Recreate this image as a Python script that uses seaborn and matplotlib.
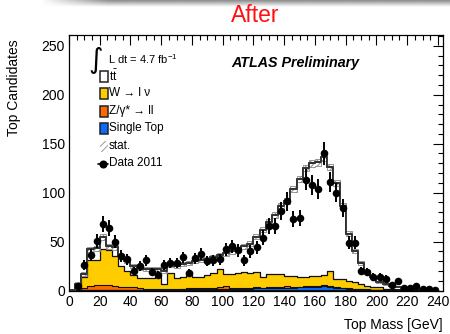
import numpy as np
import pandas as pd
import matplotlib
matplotlib.use("Agg")
import matplotlib.pyplot as plt
import seaborn as sns
from matplotlib.patches import Rectangle
from matplotlib.lines import Line2D
from matplotlib.ticker import MultipleLocator

# ---------------- data (4 GeV bins, 0-240 GeV) ----------------
bin_edges = list(range(0, 244, 4))

data_2011 = [0, 5, 26, 36, 51, 68, 64, 50, 35, 32,
             20, 25, 31, 19, 16, 26, 28, 28, 34, 18,
             33, 37, 30, 31, 32, 42, 45, 41, 31, 40,
             44, 54, 66, 66, 81, 91, 73, 74, 113, 108,
             104, 140, 111, 100, 84, 49, 49, 20, 19, 14,
             14, 12, 6, 10, 3, 3, 5, 2, 2, 1]

# stacked totals as drawn (top of each layer)
total_mc = [1, 7, 17, 42, 43, 55, 45, 44, 35, 30,
            25, 23, 22, 22, 22, 20, 26, 25, 27, 28,
            30, 31, 32, 34, 36, 38, 40, 42, 45, 48,
            55, 62, 70, 77, 86, 91, 104, 114, 125, 130,
            131, 136, 126, 110, 86, 58, 40, 28, 19, 14,
            9, 7, 5, 4, 3, 2.5, 2, 1.5, 1, 0.8]

wjets_top = [0.5, 6, 14, 31, 31, 42, 41, 35, 25, 20,
             16, 13, 13, 13, 14, 7, 18, 13, 14, 19,
             14, 14, 16, 18, 22, 17, 17, 18, 19, 18,
             19, 14, 17, 17, 17, 15, 15, 14, 14, 15,
             15, 16, 20, 12, 12, 10, 9, 7, 5, 4,
             4, 2, 2, 1, 0.5, 0.3, 0.3, 0.2, 0.2, 0.1]

single_top = [0, 0.1, 0.2, 0.4, 0.5, 0.5, 0.5, 0.5, 0.5, 0.6,
              0.6, 0.7, 0.8, 0.8, 0.9, 0.8, 1.0, 1.0, 1.1, 1.2,
              1.3, 1.3, 1.4, 1.5, 1.6, 1.7, 1.8, 1.9, 2.0, 2.0,
              2.2, 2.2, 2.4, 2.5, 2.6, 2.8, 3.0, 3.2, 3.4, 3.8,
              4.0, 4.2, 3.8, 3.0, 2.5, 2.0, 1.6, 1.2, 0.9, 0.7,
              0.5, 0.4, 0.3, 0.2, 0.1, 0.1, 0.1, 0, 0, 0]

zjets = [0, 0.5, 2.0, 4.0, 5.0, 5.5, 5.0, 4.0, 3.5, 3.0,
         2.5, 1.5, 1.2, 1.0, 1.0, 0.8, 1.0, 1.0, 0.9, 0.9,
         1.0, 1.0, 1.0, 1.2, 1.5, 2.5, 1.2, 1.0, 1.0, 0.9,
         0.9, 0.8, 0.8, 0.8, 1.2, 1.5, 1.0, 0.8, 0.8, 0.8,
         1.0, 1.5, 1.2, 0.6, 0.5, 0.4, 0.3, 0.3, 0.2, 0.2,
         0.1, 0.1, 0.1, 0.05, 0.05, 0, 0, 0, 0, 0]

mc_stat_err = [0.5, 1.2, 2, 2.5, 2.5, 3, 2.5, 2.5, 2, 2,
               1.8, 1.8, 1.8, 1.8, 1.8, 1.8, 1.9, 1.9, 2, 2,
               2, 2, 2, 2.1, 2.2, 2.3, 2.3, 2.4, 2.5, 2.5,
               2.6, 2.7, 2.8, 2.9, 3, 3.1, 3.2, 3.3, 3.4, 3.5,
               3.5, 3.5, 3.4, 3.2, 3, 2.6, 2.2, 1.8, 1.5, 1.3,
               1.1, 0.9, 0.8, 0.7, 0.6, 0.5, 0.5, 0.4, 0.4, 0.3]

x_ticks = [0, 20, 40, 60, 80, 100, 120, 140, 160, 180, 200, 220, 240]
y_ticks = [0, 50, 100, 150, 200, 250]

legend_labels = [r"$\mathregular{t\bar{t}}$", "W \u2192 l \u03bd", "Z/\u03b3* \u2192 ll",
                 "Single Top", "stat.", "Data 2011"]

# ---------------- style ----------------
sns.set_theme(style="white")
plt.rcParams["font.family"] = ["Liberation Sans", "DejaVu Sans"]
plt.rcParams["mathtext.fontset"] = "custom"
plt.rcParams["mathtext.rm"] = "Liberation Sans"
plt.rcParams["mathtext.it"] = "Liberation Sans:italic"
plt.rcParams["mathtext.bf"] = "Liberation Sans:bold"
plt.rcParams["hatch.linewidth"] = 0.7
plt.rcParams["text.color"] = "black"
plt.rcParams["axes.labelcolor"] = "black"
plt.rcParams["xtick.color"] = "black"
plt.rcParams["ytick.color"] = "black"

C_W = "#FFCC00"
C_Z = "#FF6A00"
C_ST = "#0A6CFF"

edges = np.array(bin_edges, dtype=float)
centers = edges[:-1] + 2.0
df = pd.DataFrame({
    "mass": centers,
    "total": total_mc,
    "w_top": wjets_top,
    "z_top": np.array(single_top) + np.array(zjets),
    "st": single_top,
    "data": data_2011,
    "stat": mc_stat_err,
})

W, H = 450, 334
fig = plt.figure(figsize=(W / 100, H / 100), dpi=100)
AX_L, AX_R, AX_T, AX_B = 69, 443, 35, 290.5
ax = fig.add_axes([AX_L / W, 1 - AX_B / H, (AX_R - AX_L) / W, (AX_B - AX_T) / H])

# stacked MC drawn as cumulative layers, top first
for col, color, lw in [("total", "white", 1.3), ("w_top", C_W, 0.9),
                       ("z_top", C_Z, 0.8), ("st", C_ST, 0.8)]:
    sns.histplot(data=df, x="mass", weights=col, bins=bin_edges, element="step",
                 fill=True, color=color, alpha=1, edgecolor="#111111",
                 linewidth=lw, ax=ax)

# stat band
tot = np.array(total_mc, dtype=float)
err = np.array(mc_stat_err, dtype=float)
lo = np.append(tot - err, tot[-1] - err[-1])
hi = np.append(tot + err, tot[-1] + err[-1])
ax.fill_between(edges, lo, hi, step="post", facecolor="none",
                edgecolor="#888888", hatch="//////", linewidth=0.6, zorder=3)
ax.step(edges, np.append(tot, tot[-1]), where="post", color="#333333", lw=1.3, zorder=3)

# data
d = df[df["data"] > 0]
ax.errorbar(d["mass"], d["data"], yerr=np.sqrt(d["data"]), fmt="none",
            ecolor="black", elinewidth=1.4, capsize=0, zorder=4)
sns.scatterplot(data=d, x="mass", y="data", color="black", s=30,
                edgecolor="black", linewidth=0, ax=ax, zorder=5, legend=False)

# axes
ax.set_xlim(0, 243.3)
ax.set_ylim(0, 261)
ax.set_xticks(x_ticks)
ax.set_yticks(y_ticks)
ax.xaxis.set_minor_locator(MultipleLocator(5))
ax.yaxis.set_minor_locator(MultipleLocator(10))
ax.tick_params(which="both", direction="in", top=True, right=True,
               colors="black", labelcolor="black", width=0.8, labelsize=10)
ax.tick_params(which="major", length=7)
ax.tick_params(which="minor", length=3.5)
ax.tick_params(axis="y", pad=3)
ax.tick_params(axis="x", pad=3)
ax.set_xlabel("")
ax.set_ylabel("")
for s in ax.spines.values():
    s.set_color("black")
    s.set_linewidth(0.9)
    s.set_zorder(6)


def axc(px, py):
    return ((px - AX_L) / (AX_R - AX_L), (AX_B - py) / (AX_B - AX_T))


def pw(w):
    return w / (AX_R - AX_L)


def ph(h):
    return h / (AX_B - AX_T)


# legend
ax.text(*axc(96, 60), "\u222b", transform=ax.transAxes, fontsize=20,
        ha="center", va="center", family=["DejaVu Sans"], color="black", zorder=7)
ax.text(*axc(108, 59), r"L dt = 4.7 fb$^{\mathregular{-1}}$", transform=ax.transAxes,
        fontsize=8, ha="left", va="center", color="black", zorder=7)

rows = [76 + 17.5 * i for i in range(6)]
box_colors = ["white", C_W, C_Z, C_ST]
for i, c in enumerate(box_colors):
    x0, y0 = axc(99.5, rows[i] + 5.5)
    ax.add_patch(Rectangle((x0, y0), pw(8), ph(11), transform=ax.transAxes,
                           facecolor=c, edgecolor="#222222", linewidth=1.1,
                           zorder=7, clip_on=False))
x0, y0 = axc(99.5, rows[4] + 5.5)
ax.add_patch(Rectangle((x0, y0), pw(8), ph(11), transform=ax.transAxes,
                       facecolor="none", edgecolor="#999999", hatch="/////",
                       linewidth=0, zorder=7))
xa, ya = axc(98, rows[5])
xb, _ = axc(108, rows[5])
ax.add_line(Line2D([xa, xb], [ya, ya], transform=ax.transAxes, color="black", lw=1.2, zorder=7))
ax.add_line(Line2D([axc(103, 0)[0]], [ya], transform=ax.transAxes, color="black",
                   marker="o", ms=4.8, lw=0, zorder=7))
for i, lab in enumerate(legend_labels):
    ax.text(*axc(109, rows[i]), lab, transform=ax.transAxes, fontsize=8.5,
            ha="left", va="center", color="black", zorder=7)

ax.text(*axc(231, 63), "ATLAS Preliminary", transform=ax.transAxes, fontsize=10.3,
        fontweight="bold", fontstyle="italic", ha="left", va="center",
        color="black", zorder=7)

# labels
fig.text(AX_R / W, 1 - 325 / H, "Top Mass [GeV]", ha="right", va="center",
         fontsize=10, color="black")
fig.text(14 / W, 1 - 39 / H, "Top Candidates", rotation=90, ha="center", va="top",
         fontsize=10, color="black")
fig.text(255 / W, 1 - 16 / H, "After", color="#FF1010", ha="center", va="center",
         fontsize=16.5)

# top shadow bar
sh = fig.add_axes([40 / W, 1 - 7 / H, 410 / W, 7 / H])
grad_v = np.linspace(0.55, 1.0, 20)[:, None]
grad_h = np.clip(np.linspace(0, 6, 200), 0, 1)[None, :]
img = 1 - (1 - grad_v) * grad_h
sh.imshow(img, cmap="gray", vmin=0, vmax=1, aspect="auto", interpolation="bilinear")
sh.axis("off")

fig.savefig("out.png", dpi=100)
